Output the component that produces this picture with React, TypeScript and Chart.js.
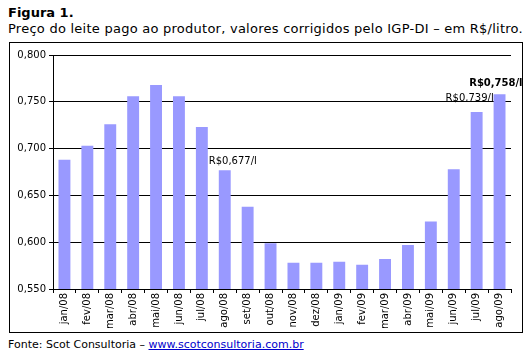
import React, { useEffect, useRef } from "react";
import { Chart, registerables } from "chart.js";

Chart.register(...registerables);

const categories = [
  "jan/08", "fev/08", "mar/08", "abr/08", "mai/08", "jun/08", "jul/08", "ago/08",
  "set/08", "out/08", "nov/08", "dez/08", "jan/09", "fev/09", "mar/09", "abr/09",
  "mai/09", "jun/09", "jul/09", "ago/09",
];
const prices = [
  0.688, 0.703, 0.726, 0.756, 0.768, 0.756, 0.723, 0.677,
  0.638, 0.599, 0.578, 0.578, 0.579, 0.576, 0.582, 0.597,
  0.622, 0.678, 0.739, 0.758,
];
const yTicks = [0.55, 0.6, 0.65, 0.7, 0.75, 0.8];
const annotations = [
  { index: 7, text: "R$0,677/l", bold: false, align: "center", dx: 8, dy: -6 },
  { index: 18, text: "R$0,739/l", bold: false, align: "center", dx: -7, dy: -11 },
  { index: 19, text: "R$0,758/l", bold: true, align: "right", dx: 23, dy: -8 },
];

const FONT = "'DejaVu Sans', Verdana, sans-serif";

const labelPlugin = {
  id: "valueLabels",
  afterDatasetsDraw(chart: any) {
    const ctx = chart.ctx;
    const meta = chart.getDatasetMeta(0);
    ctx.save();
    ctx.fillStyle = "#000";
    ctx.textBaseline = "alphabetic";
    annotations.forEach((a) => {
      const el = meta.data[a.index];
      ctx.textAlign = a.align;
      ctx.font = (a.bold ? "bold " : "") + "10px " + FONT;
      ctx.fillText(a.text, el.x + a.dx, el.y + a.dy);
    });
    ctx.restore();
  },
};

export default function App() {
  const ref = useRef<HTMLCanvasElement | null>(null);
  useEffect(() => {
    if (!ref.current) return;
    const chart = new Chart(ref.current, {
      type: "bar",
      data: {
        labels: categories,
        datasets: [
          {
            data: prices,
            backgroundColor: "#9999ff",
            borderWidth: 0,
            categoryPercentage: 1,
            barPercentage: 0.52,
          },
        ],
      },
      options: {
        responsive: false,
        animation: false,
        maintainAspectRatio: false,
        layout: { padding: { top: 12, right: 11, left: 0, bottom: 0 } },
        plugins: {
          legend: { display: false },
          tooltip: { enabled: false },
        },
        scales: {
          x: {
            offset: true,
            grid: {
              offset: true,
              drawOnChartArea: false,
              drawTicks: true,
              tickLength: 4,
              color: "#000",
            },
            border: { color: "#000", width: 1 },
            ticks: {
              color: "#000",
              font: { family: FONT, size: 10 },
              minRotation: 90,
              maxRotation: 90,
              autoSkip: false,
              padding: 0,
            },
            afterFit: (s: any) => {
              s.height = 43;
            },
          },
          y: {
            min: 0.55,
            max: 0.8,
            afterBuildTicks: (s: any) => {
              s.ticks = yTicks.map((v) => ({ value: v }));
            },
            grid: {
              color: "#000",
              tickLength: 4,
              drawTicks: true,
            },
            border: { color: "#000", width: 1 },
            ticks: {
              color: "#000",
              font: { family: FONT, size: 10 },
              padding: 3,
              callback: (v: any) => Number(v).toFixed(3).replace(".", ","),
            },
            afterFit: (s: any) => {
              s.width = 43;
            },
          },
        },
      },
      plugins: [labelPlugin],
    });
    return () => chart.destroy();
  }, []);

  return (
    <div
      style={{
        position: "absolute",
        left: 0,
        top: 0,
        width: 527,
        height: 354,
        background: "#fff",
        fontFamily: FONT,
        color: "#000",
      }}
    >
      <div style={{ position: "absolute", left: 8, top: 5, fontSize: 13, fontWeight: "bold", lineHeight: "15px" }}>
        Figura 1.
      </div>
      <div
        style={{
          position: "absolute",
          left: 8,
          top: 21,
          fontSize: 13,
          lineHeight: "15px",
          whiteSpace: "nowrap",
          letterSpacing: "0.25px",
        }}
      >
        Preço do leite pago ao produtor, valores corrigidos pelo IGP-DI – em R$/litro.
      </div>
      <div
        style={{
          position: "absolute",
          left: 9,
          top: 42,
          width: 514,
          height: 291,
          border: "1px solid #000",
          boxSizing: "border-box",
        }}
      />
      <canvas
        ref={ref}
        width={512}
        height={289}
        style={{ position: "absolute", left: 10, top: 43, width: 512, height: 289 }}
      />
      <div style={{ position: "absolute", left: 8, top: 338, fontSize: 11, lineHeight: "14px", whiteSpace: "nowrap" }}>
        Fonte: Scot Consultoria –{" "}
        <span style={{ color: "#0000cc", textDecoration: "underline" }}>www.scotconsultoria.com.br</span>
      </div>
    </div>
  );
}
